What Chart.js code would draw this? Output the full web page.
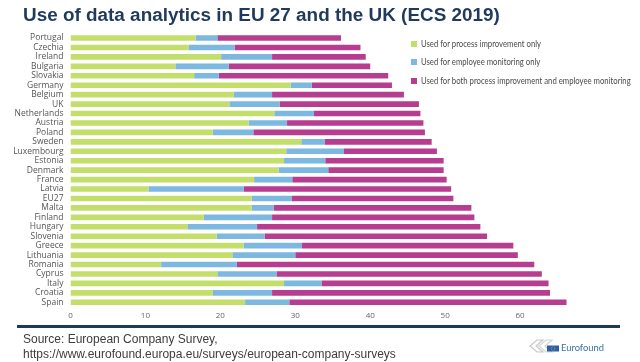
<!DOCTYPE html>
<html>
<head>
<meta charset="utf-8">
<script src="https://cdn.jsdelivr.net/npm/chart.js@4.4.1/dist/chart.umd.min.js"></script>
<style>
  html, body { margin:0; padding:0; background:#fff; width:640px; height:362px; overflow:hidden; }
  #wrap { position:relative; width:640px; height:362px; }
  #c { position:absolute; left:0; top:0; }
  .title { position:absolute; left:23px; top:4.5px; line-height:20px; font-family:"Liberation Sans", Arial, sans-serif; font-weight:bold; font-size:17.5px; color:#1f3a5c; white-space:nowrap; transform:scaleX(1.08); transform-origin:left top; }
  .legend { position:absolute; left:411px; top:38px; font-family:Lato, sans-serif; font-size:8.6px; color:#4a4a4a; }
  .legend div { position:relative; height:18.3px; line-height:12px; padding-left:10px; white-space:nowrap; }
  .legend span { position:absolute; left:0; top:3px; width:6px; height:6px; }
  .legend em { font-style:normal; display:inline-block; transform:scaleX(0.9); transform-origin:left top; }
  .rule { position:absolute; left:17px; top:325px; width:603px; height:3px; background:#1c3a5a; }
  .src { position:absolute; left:23px; line-height:14px; font-family:"Liberation Sans", Arial, sans-serif; font-size:12px; color:#3d3d3d; white-space:nowrap; }
  .logo { position:absolute; left:527px; top:338px; width:90px; height:16px; }
  .logotxt { position:absolute; left:561px; top:341.5px; font-family:Lato, sans-serif; font-size:9.4px; color:#3d6fa8; }
</style>
</head>
<body>
<div id="wrap">
  <canvas id="c" width="640" height="362"></canvas>
  <div class="title">Use of data analytics in EU 27 and the UK (ECS 2019)</div>
  <div class="legend" id="legend"></div>
  <div class="rule"></div>
  <div class="src" style="top:332px">Source: European Company Survey,</div>
  <div class="src" style="top:347px">https://www.eurofound.europa.eu/surveys/european-company-surveys</div>
  <svg class="logo" viewBox="0 0 90 16" width="90" height="16">
    <path d="M3 8 L10 2 L16 2 L9 8 L16 14 L10 14 Z" fill="none" stroke="#c8c8c8" stroke-width="1.2"/>
    <path d="M12 8 L19 2 L25 2 L18 8 L25 14 L19 14 Z" fill="none" stroke="#d5d5d5" stroke-width="1.2"/>
    <rect x="20" y="7.5" width="12" height="6" fill="#2f5fa8"/>
    <circle cx="26" cy="10.5" r="1.8" fill="none" stroke="#e8d44a" stroke-width="0.6" stroke-dasharray="0.6 0.6"/>
  </svg>
  <div class="logotxt">Eurofound</div>
</div>
<script>
const countries = ["Portugal","Czechia","Ireland","Bulgaria","Slovakia","Germany","Belgium","UK","Netherlands","Austria","Poland","Sweden","Luxembourg","Estonia","Denmark","France","Latvia","EU27","Malta","Finland","Hungary","Slovenia","Greece","Lithuania","Romania","Cyprus","Italy","Croatia","Spain"];
const processOnly    = [16.7,15.8,20.1,14.0,16.5,29.4,21.8,21.2,27.2,23.8,19.0,30.8,28.8,28.5,27.8,24.5,10.4,24.2,24.2,17.8,15.6,19.5,23.1,21.6,12.1,19.6,28.5,19.0,23.3];
const monitoringOnly = [2.9,6.1,6.8,7.1,3.3,2.8,5.1,6.7,5.3,5.1,5.4,3.1,7.7,5.5,6.6,5.1,12.7,5.3,2.9,9.1,9.3,6.4,7.8,8.4,10.1,7.9,5.0,7.9,5.9];
const bothUses       = [16.5,16.8,12.5,18.9,22.6,10.7,17.6,18.6,14.2,18.2,22.9,14.3,12.4,15.8,15.4,20.6,27.7,21.6,26.4,27.0,29.8,29.7,28.2,29.7,39.7,35.4,30.3,37.1,37.0];
const seriesNames = ["Used for process improvement only","Used for employee monitoring only","Used for both process improvement and employee monitoring"];
const xTicks = [0,10,20,30,40,50,60];

const colors = ["#c4de6c","#7cb8df","#b73d90"];
const seriesData = [processOnly, monitoringOnly, bothUses];

const lg = document.getElementById('legend');
seriesNames.forEach((n,i)=>{
  const d = document.createElement('div');
  d.innerHTML = '<span style="background:'+colors[i]+'"></span><em>' + n + '</em>';
  lg.appendChild(d);
});

new Chart(document.getElementById('c'), {
  type: 'bar',
  data: {
    labels: countries,
    datasets: seriesNames.map((n,i)=>({
      label: n,
      data: seriesData[i],
      backgroundColor: colors[i],
      borderWidth: 0,
      barPercentage: 0.6,
      categoryPercentage: 1
    }))
  },
  options: {
    indexAxis: 'y',
    responsive: false,
    animation: false,
    layout: { padding: { left: 0, top: 33.3, right: 45, bottom: 35 } },
    plugins: { legend: { display: false }, tooltip: { enabled: false } },
    scales: {
      x: {
        stacked: true, min: 0, max: 70,
        afterBuildTicks: (s) => { s.ticks = xTicks.map(v=>({value:v})); },
        afterFit: (s) => { s.height = 20; },
        grid: { display: false, drawTicks: false },
        border: { display: false },
        ticks: { padding: 4, color: '#666', font: { family: 'Open Sans', size: 8 } }
      },
      y: {
        stacked: true,
        afterFit: (s) => { s.width = 70.5; },
        grid: { display: false, drawTicks: false },
        border: { display: false },
        ticks: { padding: 7, color: '#555', font: { family: 'Open Sans', size: 8.5 }, autoSkip: false }
      }
    }
  }
});
</script>
</body>
</html>
